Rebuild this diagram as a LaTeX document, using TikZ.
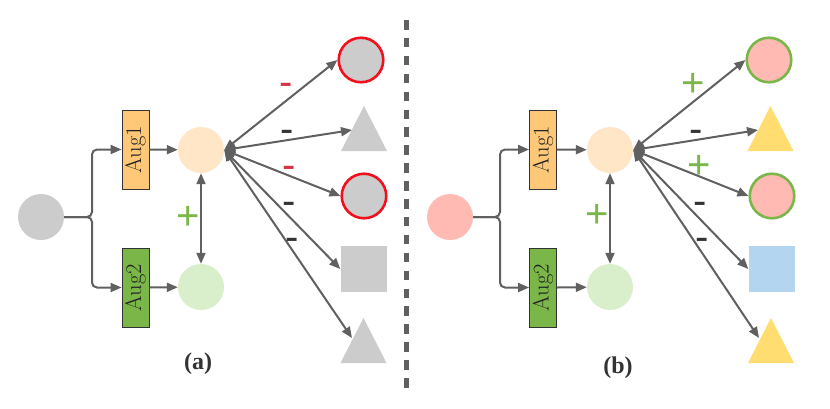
\documentclass[tikz,border=0pt]{standalone}
\usepackage{fontspec}
\usetikzlibrary{arrows.meta,calc}
\newfontfamily\labfont{Liberation Sans}
\newfontfamily\capfont{Liberation Serif}
\definecolor{lineg}{HTML}{606060}
\definecolor{grayc}{HTML}{CCCCCC}
\definecolor{peach}{HTML}{FFE6C6}
\definecolor{lgreen}{HTML}{D9EECB}
\definecolor{pinkc}{HTML}{FFBBB3}
\definecolor{yellowc}{HTML}{FFDD71}
\definecolor{bluec}{HTML}{B3D5EF}
\definecolor{augone}{HTML}{FFC878}
\definecolor{augtwo}{HTML}{7AB648}
\definecolor{redline}{HTML}{F0101E}
\definecolor{redlab}{HTML}{D33545}
\definecolor{greenlab}{HTML}{7AB648}
\definecolor{darklab}{HTML}{333333}
\definecolor{augtext}{HTML}{222222}
\begin{document}
\begin{tikzpicture}[x=1pt,y=-1pt,
  conn/.style={draw=lineg, line width=2pt},
  tip/.style={-{Triangle[length=11pt,width=9pt]}},
  dtip/.style={{Triangle[length=11pt,width=9pt]}-{Triangle[length=11pt,width=9pt]}},
  circ/.style={circle, minimum size=46pt, inner sep=0pt},
  ocirc/.style={circle, minimum size=44.5pt, inner sep=0pt, line width=2.6pt},
  sqr/.style={rectangle, minimum size=46pt, inner sep=0pt},
  augbox/.style={draw=black!80, line width=0.9pt, rotate=90, minimum width=79pt,
    minimum height=27pt, inner sep=0pt, text=augtext, font=\fontsize{22.5}{22.5}\selectfont},
  lab/.style={inner sep=0pt, anchor=base, font=\labfont\fontsize{40}{40}\selectfont},
  captext/.style={inner sep=0pt, font=\capfont\bfseries\fontsize{24}{24}\selectfont, text=darklab}
]
\useasboundingbox (0,0) rectangle (830,408);
\fill[white] (0,0) rectangle (830,408);

% ---------- panel (a) ----------
\node[circ, fill=grayc] (sA) at (41,217) {};
\node[augbox, fill=augone] (a1A) at (135.5,149.5) {Aug1};
\node[augbox, fill=augtwo] (a2A) at (135.5,287.5) {Aug2};
\node[circ, fill=peach] (pA) at (201,150) {};
\node[circ, fill=lgreen] (gA) at (201,287) {};
\coordinate (jA) at (92,217);
\draw[conn, tip, rounded corners=5pt] (sA.east) -- (jA) |- (a1A.north);
\draw[conn, tip, rounded corners=5pt] (sA.east) -- (jA) |- (a2A.north);
\draw[conn, tip] (a1A.south) -- (pA);
\draw[conn, tip] (a2A.south) -- (gA);
\draw[conn, dtip] (pA) -- (gA);
\node[lab, text=greenlab] (plA) at (188,229) {+};

\node[ocirc, draw=redline, fill=grayc] (c1A) at (361,60) {};
\coordinate (t1A) at (364,128.5);
\fill[grayc] ($(t1A)+(-23,22.5)$) -- ++(46,0) -- ($(t1A)+(0,-22.5)$) -- cycle;
\coordinate (t1Ae) at (352,130);
\node[ocirc, draw=redline, fill=grayc] (c2A) at (364,196) {};
\node[sqr, fill=grayc] (sqA) at (363.5,269) {};
\coordinate (t2A) at (363.5,340.5);
\fill[grayc] ($(t2A)+(-23,22.5)$) -- ++(46,0) -- ($(t2A)+(0,-22.5)$) -- cycle;
\coordinate (t2Ae) at (352,338);

\coordinate (hA) at (pA.east);
\draw[conn, dtip] (hA) -- (c1A.west);
\draw[conn, dtip] (hA) -- (t1Ae);
\draw[conn, dtip] (hA) -- (c2A.west);
\draw[conn, dtip] (hA) -- (sqA.west);
\draw[conn, dtip] (hA) -- (t2Ae);

\node[lab, text=redlab] (m1A) at (286,95) {-};
\node[lab, text=darklab] (m2A) at (287,142) {-};
\node[lab, text=redlab] (m3A) at (289,178) {-};
\node[lab, text=darklab] (m4A) at (289,214) {-};
\node[lab, text=darklab] (m5A) at (292,250) {-};

\node[captext] (capA) at (198,363.5) {(a)};

% ---------- divider ----------
\coordinate (divT) at (406.5,20);
\coordinate (divB) at (406.5,388);
\draw[draw=lineg, line width=4.5pt, dash pattern=on 9.5pt off 8.4pt] (divT) -- (divB);

% ---------- panel (b) ----------
\node[circ, fill=pinkc] (sB) at (450,217) {};
\node[augbox, fill=augone] (a1B) at (543,149.5) {Aug1};
\node[augbox, fill=augtwo] (a2B) at (543,287.5) {Aug2};
\node[circ, fill=peach] (pB) at (610,150) {};
\node[circ, fill=lgreen] (gB) at (610,287) {};
\coordinate (jB) at (500,217);
\draw[conn, tip, rounded corners=5pt] (sB.east) -- (jB) |- (a1B.north);
\draw[conn, tip, rounded corners=5pt] (sB.east) -- (jB) |- (a2B.north);
\draw[conn, tip] (a1B.south) -- (pB);
\draw[conn, tip] (a2B.south) -- (gB);
\draw[conn, dtip] (pB) -- (gB);
\node[lab, text=greenlab] (plB) at (597,227) {+};

\node[ocirc, draw=greenlab, fill=pinkc] (c1B) at (769,60) {};
\coordinate (t1B) at (770.5,128.5);
\fill[yellowc] ($(t1B)+(-23,22.5)$) -- ++(46,0) -- ($(t1B)+(0,-22.5)$) -- cycle;
\coordinate (t1Be) at (758,130);
\node[ocirc, draw=greenlab, fill=pinkc] (c2B) at (772,196) {};
\node[sqr, fill=bluec] (sqB) at (771.5,269) {};
\coordinate (t2B) at (771,340.5);
\fill[yellowc] ($(t2B)+(-23,22.5)$) -- ++(46,0) -- ($(t2B)+(0,-22.5)$) -- cycle;
\coordinate (t2Be) at (759,338);

\coordinate (hB) at (pB.east);
\draw[conn, dtip] (hB) -- (c1B.west);
\draw[conn, dtip] (hB) -- (t1Be);
\draw[conn, dtip] (hB) -- (c2B.west);
\draw[conn, dtip] (hB) -- (sqB.west);
\draw[conn, dtip] (hB) -- (t2Be);

\node[lab, text=greenlab] (p1B) at (693,96) {+};
\node[lab, text=darklab] (m2B) at (696,142) {-};
\node[lab, text=greenlab] (p3B) at (699,178) {+};
\node[lab, text=darklab] (m4B) at (700,214) {-};
\node[lab, text=darklab] (m5B) at (702,250) {-};

\node[captext] (capB) at (618,368) {(b)};
\end{tikzpicture}
\end{document}
